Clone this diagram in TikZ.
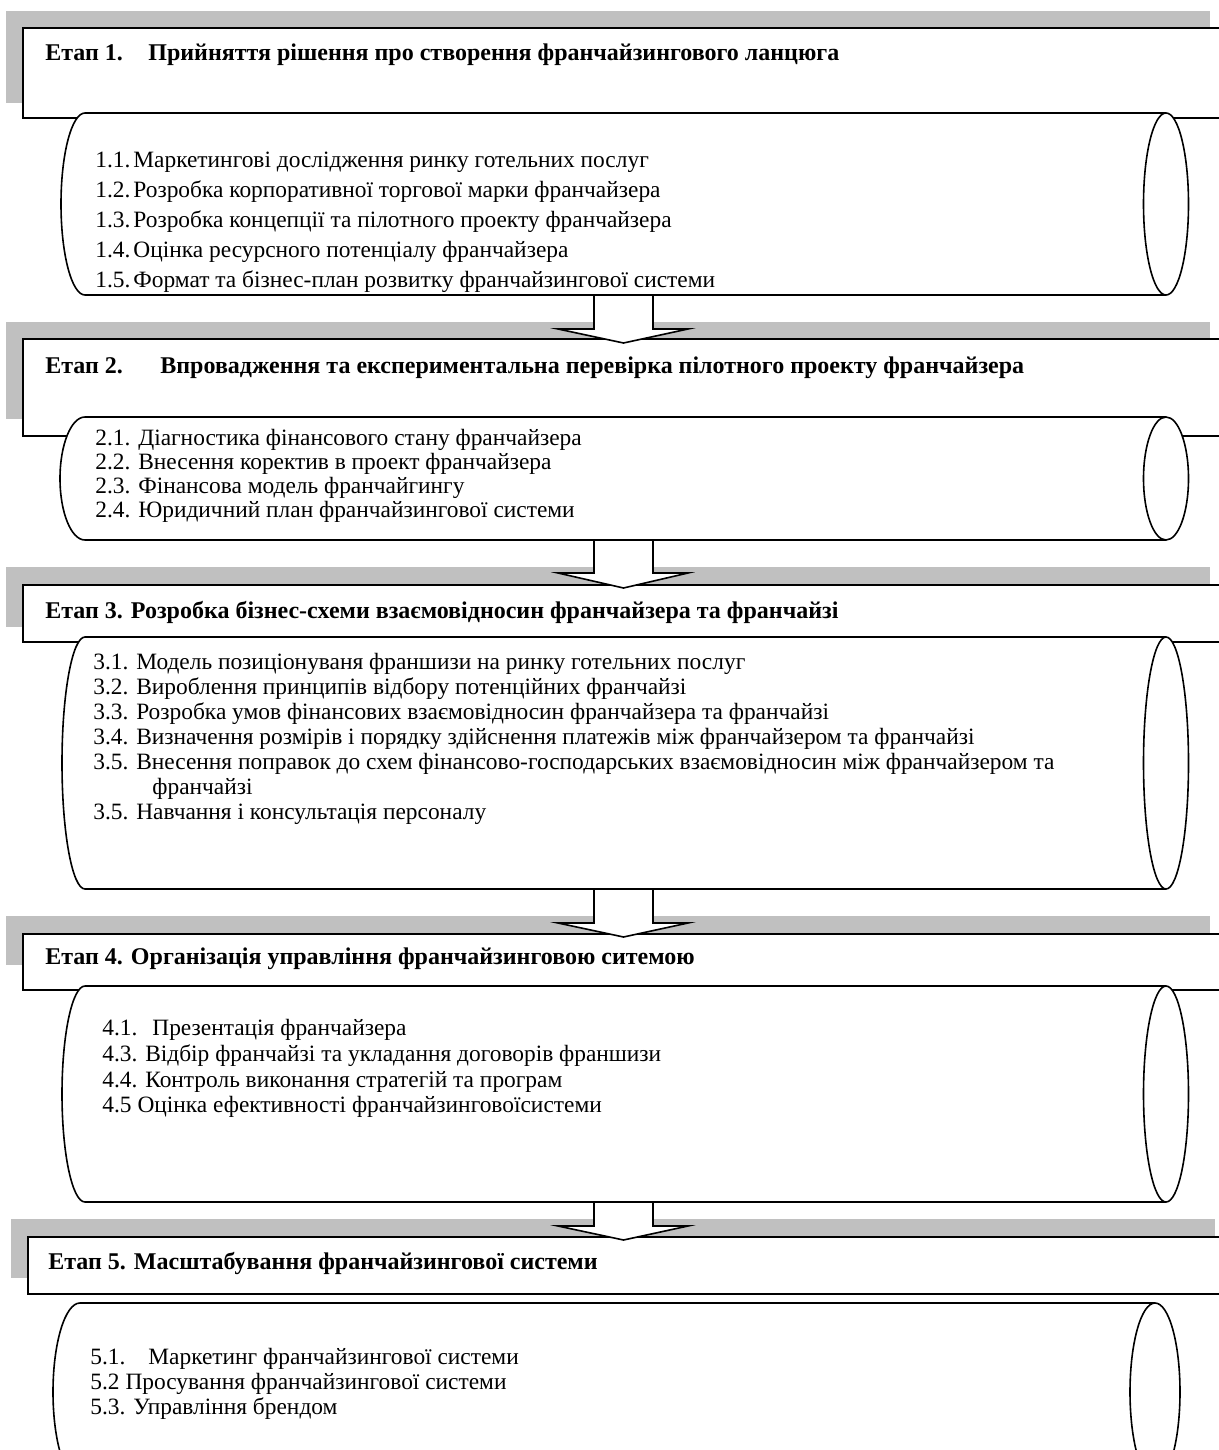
\documentclass[tikz,border=0pt]{standalone}
\usepackage{fontspec}
\setmainfont{Liberation Serif}
\definecolor{shadowgray}{RGB}{192,192,192}
\begin{document}
\begin{tikzpicture}[x=0.5pt,y=-0.5pt,
  shadowbar/.style={fill=shadowgray, draw=none},
  headbox/.style={fill=white, draw=black, line width=0.8pt},
  cylbody/.style={fill=white, draw=black, line width=0.8pt},
  itemtext/.style={anchor=base west, inner sep=0pt, font=\fontsize{11.7}{14}\selectfont},
  headtext/.style={anchor=base west, inner sep=0pt, font=\fontsize{12}{14}\selectfont\bfseries},
  blockarrow/.style={fill=white, draw=black, line width=0.8pt, line join=miter}]
\useasboundingbox (0,0) rectangle (1219,1450);
\clip (0,0) rectangle (1219,1450);
\fill[white] (0,0) rectangle (1219,1450);

% ---------- Stage 1 ----------
\fill[shadowbar] (6,11) rectangle (1210,103);
\draw[headbox] (23,28) rectangle (1240,118);
\node[headtext] (h1a) at (45,61) {Етап 1.};
\node[headtext] (h1b) at (148,61) {Прийняття рішення про створення франчайзингового ланцюга};
\draw[cylbody] (1166,113) -- (85,113) arc[start angle=270, end angle=90, x radius=24, y radius=91] -- (1166,295);
\draw[cylbody] (1166,204) ellipse [x radius=22.5, y radius=91];
\node[itemtext] (i11) at (95,167) {\makebox[19pt][l]{1.1.}Маркетингові дослідження ринку готельних послуг};
\node[itemtext] (i12) at (95,197) {\makebox[19pt][l]{1.2.}Розробка корпоративної торгової марки франчайзера};
\node[itemtext] (i13) at (95,227) {\makebox[19pt][l]{1.3.}Розробка концепції та пілотного проекту франчайзера};
\node[itemtext] (i14) at (95,257) {\makebox[19pt][l]{1.4.}Оцінка ресурсного потенціалу франчайзера};
\node[itemtext] (i15) at (95,287) {\makebox[19pt][l]{1.5.}Формат та бізнес-план розвитку франчайзингової системи};

% ---------- Stage 2 ----------
\fill[shadowbar] (6,322) rectangle (1210,419);
\draw[headbox] (23,339) rectangle (1240,436);
\node[headtext] (h2a) at (45,373) {Етап 2.};
\node[headtext] (h2b) at (160,373) {Впровадження та експериментальна перевірка пілотного проекту франчайзера};
\draw[cylbody] (1166,417) -- (85,417) arc[start angle=270, end angle=90, x radius=25, y radius=61.5] -- (1166,540);
\draw[cylbody] (1166,478.5) ellipse [x radius=22.5, y radius=61.5];
\node[itemtext] (i21) at (95,445) {2.1. Діагностика фінансового стану франчайзера};
\node[itemtext] (i22) at (95,469) {2.2. Внесення коректив в проект франчайзера};
\node[itemtext] (i23) at (95,493) {2.3. Фінансова модель франчайгингу};
\node[itemtext] (i24) at (95,517) {2.4. Юридичний план франчайзингової системи};
\draw[blockarrow] (594,296) -- (594,329) -- (558,329) -- (623.5,343) -- (688,329) -- (653,329) -- (653,296);

% ---------- Stage 3 ----------
\fill[shadowbar] (6,567) rectangle (1210,627);
\draw[headbox] (23,585) rectangle (1240,642);
\node[headtext] (h3) at (45,618) {Етап 3. Розробка бізнес-схеми взаємовідносин франчайзера та франчайзі};
\draw[cylbody] (1166,637) -- (85,637) arc[start angle=270, end angle=90, x radius=23, y radius=126] -- (1166,889);
\draw[cylbody] (1166,763) ellipse [x radius=22.5, y radius=126];
\node[itemtext] (i31) at (93,669) {3.1. Модель позиціонуваня франшизи на ринку готельних послуг};
\node[itemtext] (i32) at (93,694) {3.2. Вироблення принципів відбору потенційних франчайзі};
\node[itemtext] (i33) at (93,719) {3.3. Розробка умов фінансових взаємовідносин франчайзера та франчайзі};
\node[itemtext] (i34) at (93,744) {3.4. Визначення розмірів і порядку здійснення платежів між франчайзером та франчайзі};
\node[itemtext] (i35) at (93,769) {3.5. Внесення поправок до схем фінансово-господарських взаємовідносин між франчайзером та};
\node[itemtext] (i35b) at (152,794) {франчайзі};
\node[itemtext] (i36) at (93,819) {3.5. Навчання і консультація персоналу};
\draw[blockarrow] (594,541) -- (594,573) -- (558,573) -- (623.5,588) -- (688,573) -- (653,573) -- (653,541);

% ---------- Stage 4 ----------
\fill[shadowbar] (6,916) rectangle (1210,965);
\draw[headbox] (23,934) rectangle (1240,990);
\node[headtext] (h4) at (45,964) {Етап 4. Організація управління франчайзинговою ситемою};
\draw[cylbody] (1166,986) -- (85,986) arc[start angle=270, end angle=90, x radius=23, y radius=108] -- (1166,1202);
\draw[cylbody] (1166,1094) ellipse [x radius=22.5, y radius=108];
\node[itemtext] (i41) at (102,1035) {\makebox[25pt][l]{4.1.}Презентація франчайзера};
\node[itemtext] (i43) at (102,1061) {4.3. Відбір франчайзі та укладання договорів франшизи};
\node[itemtext] (i44) at (102,1087) {4.4. Контроль виконання стратегій та програм};
\node[itemtext] (i45) at (102,1112) {4.5 Оцінка ефективності франчайзинговоїсистеми};
\draw[blockarrow] (594,890) -- (594,923) -- (558,923) -- (623.5,937) -- (688,923) -- (653,923) -- (653,890);

% ---------- Stage 5 ----------
\fill[shadowbar] (11,1219) rectangle (1215,1278);
\draw[headbox] (28,1237) rectangle (1240,1294);
\node[headtext] (h5) at (48,1269) {Етап 5. Масштабування франчайзингової системи};
\draw[cylbody] (1155,1303) -- (80,1303) arc[start angle=270, end angle=90, x radius=27, y radius=89] -- (1155,1481);
\draw[cylbody] (1155,1392) ellipse [x radius=25, y radius=89];
\node[itemtext] (i51) at (90,1364) {\makebox[29pt][l]{5.1.}Маркетинг франчайзингової системи};
\node[itemtext] (i52) at (90,1389) {5.2 Просування франчайзингової системи};
\node[itemtext] (i53) at (90,1414) {5.3. Управління брендом};
\draw[blockarrow] (594,1203) -- (594,1226) -- (558,1226) -- (623.5,1240) -- (688,1226) -- (653,1226) -- (653,1203);
\end{tikzpicture}
\end{document}
